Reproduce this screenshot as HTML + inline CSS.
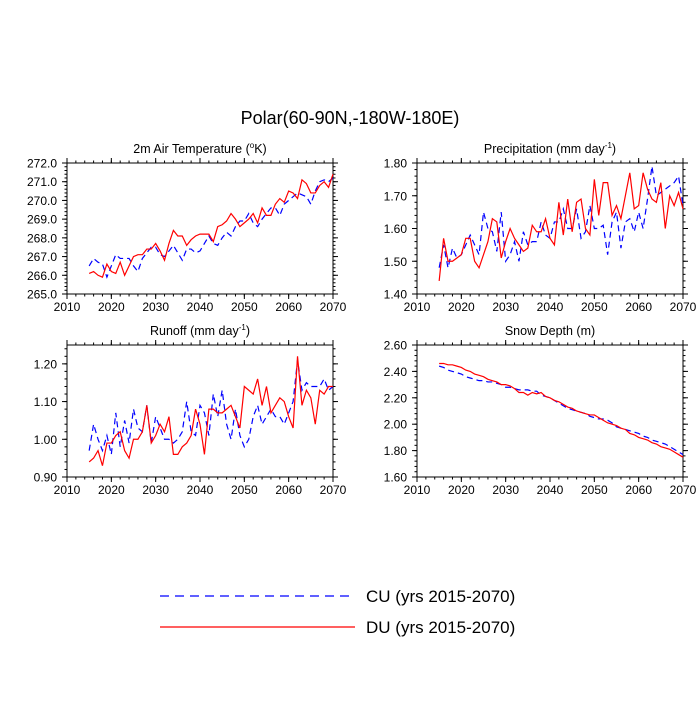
<!DOCTYPE html>
<html><head><meta charset="utf-8"><style>
body{margin:0;background:#fff;font-family:"Liberation Sans",sans-serif;}
svg text{font-family:"Liberation Sans",sans-serif;fill:#000;}
</style></head><body>
<svg id="c" width="700" height="700">
<text x="350" y="124" font-size="18" text-anchor="middle">Polar(60-90N,-180W-180E)</text>
</svg>
<script>
const years0 = 2015;
const tempRed = [266.1,266.2,266.0,265.9,266.6,266.2,266.1,266.7,266.0,266.5,267.0,267.1,267.1,267.4,267.4,267.7,267.3,266.8,267.7,268.4,268.1,268.1,267.6,267.9,268.1,268.2,268.2,268.2,267.8,268.6,268.7,268.9,269.3,269.0,268.6,268.8,269.0,269.3,268.8,269.6,269.2,269.2,269.8,270.1,269.9,270.5,270.4,270.1,271.1,270.9,270.4,270.4,270.8,271.0,270.7,271.4];
const tempBlue = [266.5,266.9,266.7,266.6,265.9,266.5,267.1,266.9,266.9,266.9,266.5,266.2,266.9,267.2,267.5,267.5,267.1,267.0,267.3,267.6,267.2,266.8,267.4,267.4,267.2,267.3,267.7,268.1,267.7,267.6,268.0,268.3,268.1,268.6,268.9,268.9,269.3,268.8,268.6,269.0,269.3,269.6,269.6,269.2,269.8,270.0,270.2,270.4,270.3,270.2,269.8,270.5,271.0,271.1,271.0,271.2];
const precRed = [1.44,1.57,1.50,1.50,1.51,1.52,1.57,1.57,1.50,1.48,1.52,1.56,1.63,1.62,1.51,1.56,1.60,1.57,1.55,1.53,1.54,1.61,1.59,1.59,1.63,1.57,1.55,1.68,1.58,1.69,1.59,1.68,1.69,1.60,1.58,1.75,1.64,1.74,1.74,1.64,1.67,1.63,1.70,1.77,1.66,1.67,1.77,1.72,1.69,1.68,1.74,1.60,1.70,1.67,1.71,1.66];
const precBlue = [1.48,1.55,1.48,1.54,1.51,1.52,1.55,1.58,1.55,1.52,1.65,1.60,1.59,1.53,1.65,1.50,1.52,1.56,1.50,1.59,1.55,1.56,1.56,1.62,1.58,1.57,1.62,1.62,1.66,1.60,1.60,1.66,1.57,1.59,1.67,1.60,1.60,1.61,1.52,1.62,1.65,1.54,1.62,1.63,1.59,1.65,1.60,1.69,1.79,1.70,1.71,1.72,1.73,1.74,1.76,1.67];
const runRed = [0.94,0.95,0.97,0.93,0.99,0.99,1.01,1.02,0.97,0.95,1.00,1.00,1.02,1.09,0.99,1.01,1.04,1.02,1.06,0.96,0.96,0.98,0.99,1.01,1.08,1.04,0.96,1.08,1.08,1.07,1.07,1.08,1.09,1.06,1.03,1.14,1.13,1.12,1.16,1.09,1.14,1.07,1.09,1.11,1.10,1.06,1.03,1.22,1.09,1.13,1.11,1.04,1.13,1.12,1.14,1.14];
const runBlue = [0.97,1.04,1.00,0.97,1.01,0.96,1.07,0.98,1.05,0.99,1.08,1.03,1.02,1.09,0.99,1.06,1.03,1.00,1.00,0.99,1.00,1.02,1.10,1.02,1.01,1.09,1.07,1.01,1.12,1.06,1.13,1.04,1.00,1.08,1.01,0.98,1.00,1.06,1.09,1.04,1.06,1.08,1.06,1.06,1.04,1.07,1.10,1.21,1.13,1.15,1.14,1.14,1.14,1.16,1.13,1.14];
const snowRed = [2.46,2.46,2.45,2.45,2.44,2.43,2.41,2.40,2.38,2.37,2.36,2.34,2.33,2.32,2.30,2.30,2.29,2.27,2.24,2.24,2.22,2.24,2.23,2.24,2.21,2.20,2.18,2.17,2.15,2.13,2.12,2.10,2.09,2.08,2.07,2.07,2.05,2.03,2.01,2.00,1.99,1.97,1.96,1.93,1.92,1.90,1.89,1.88,1.86,1.85,1.83,1.82,1.81,1.79,1.77,1.75];
const snowBlue = [2.44,2.43,2.41,2.40,2.39,2.38,2.36,2.35,2.34,2.33,2.33,2.32,2.32,2.31,2.30,2.28,2.28,2.27,2.26,2.26,2.26,2.25,2.25,2.22,2.21,2.20,2.18,2.16,2.14,2.12,2.11,2.10,2.09,2.08,2.06,2.05,2.04,2.04,2.03,2.01,1.98,1.97,1.96,1.95,1.94,1.93,1.91,1.90,1.88,1.87,1.86,1.85,1.83,1.81,1.79,1.77];
const xTicks = [2010,2020,2030,2040,2050,2060,2070];
const tempTicks = [265,266,267,268,269,270,271,272];
const precTicks = [1.4,1.5,1.6,1.7,1.8];
const runTicks = [0.9,1.0,1.1,1.2];
const snowTicks = [1.6,1.8,2.0,2.2,2.4,2.6];

const NS="http://www.w3.org/2000/svg";
const svg=document.getElementById('c');
function mk(t,a,p){const e=document.createElementNS(NS,t);for(const k in a)e.setAttribute(k,a[k]);(p||svg).appendChild(e);return e;}

function panel(name,x0,y0,w,h,ymin,ymax,yt,dec,title,sup,red,blue){
  const g=mk('g',{});
  
  
  const sx=v=>x0+(v-2010)/60*w, sy=v=>y0+h-(v-ymin)/(ymax-ymin)*h;
  const f=mk('rect',{x:x0,y:y0,width:w,height:h,fill:'none',stroke:'#000','stroke-width':1},g);
  
  
  xTicks.forEach(t=>{const x=sx(t);
    mk('line',{x1:x,x2:x,y1:y0+h,y2:y0+h+5,stroke:'#000'},g);
    mk('line',{x1:x,x2:x,y1:y0,y2:y0-5,stroke:'#000'},g);
    const l=mk('text',{x:x,y:y0+h+17,'font-size':12,'text-anchor':'middle'},g);l.textContent=t;
    
    
  });
  for(let t=2010;t<=2070;t+=2){const x=sx(t);mk('line',{x1:x,x2:x,y1:y0+h,y2:y0+h+2.5,stroke:'#000'},g);mk('line',{x1:x,x2:x,y1:y0,y2:y0-2.5,stroke:'#000'},g);}
  const step=(yt[1]-yt[0])/5;
  for(let v=yt[0];v<=ymax+1e-9;v+=step){const y=sy(v);mk('line',{x1:x0,x2:x0-2.5,y1:y,y2:y,stroke:'#000'},g);mk('line',{x1:x0+w,x2:x0+w+2.5,y1:y,y2:y,stroke:'#000'},g);}
  yt.forEach(t=>{const y=sy(t);
    mk('line',{x1:x0,x2:x0-5,y1:y,y2:y,stroke:'#000'},g);
    mk('line',{x1:x0+w,x2:x0+w+5,y1:y,y2:y,stroke:'#000'},g);
    const l=mk('text',{x:x0-10,y:y+4.5,'font-size':12,'text-anchor':'end'},g);l.textContent=t.toFixed(dec);
    
    
  });
  const tt=mk('text',{x:x0+w/2,y:y0-10,'font-size':12.5,'text-anchor':'middle'},g);
  
  
  tt.appendChild(document.createTextNode(title[0]));
  if(sup){const s=mk('tspan',{'font-size':8,dy:-5},tt);s.textContent=sup;const r=mk('tspan',{dy:5},tt);r.textContent=title[1];}
  const line=(arr,col,dash,nm)=>{const p=mk('polyline',{points:arr.map((v,i)=>sx(years0+i)+','+sy(v)).join(' '),fill:'none',stroke:col,'stroke-width':1.2,'stroke-dasharray':dash},g);
    
    };
  line(blue,'#0000ff','6,4','cu-line');
  line(red,'#ff0000','none','du-line');
}
panel('temperature-panel',67,163,266,131,265,272,tempTicks,1,['2m Air Temperature (','K)'],'o',tempRed,tempBlue);
panel('precipitation-panel',417,163,266,131,1.4,1.8,precTicks,2,['Precipitation (mm day',')'],'-1',precRed,precBlue);
panel('runoff-panel',67,345,266,132,0.9,1.25,runTicks,2,['Runoff (mm day',')'],'-1',runRed,runBlue);
panel('snow-panel',417,345,266,132,1.6,2.6,snowTicks,2,['Snow Depth (m)'],null,snowRed,snowBlue);

const l1=mk('line',{x1:160,x2:355,y1:596,y2:596,stroke:'#0000ff','stroke-width':1.2,'stroke-dasharray':'9,6'});


const t1=mk('text',{x:366,y:602,'font-size':17});t1.textContent='CU (yrs 2015-2070)';


const l2=mk('line',{x1:160,x2:355,y1:627,y2:627,stroke:'#ff0000','stroke-width':1.2});


const t2=mk('text',{x:366,y:633,'font-size':17});t2.textContent='DU (yrs 2015-2070)';


</script>
</body></html>
